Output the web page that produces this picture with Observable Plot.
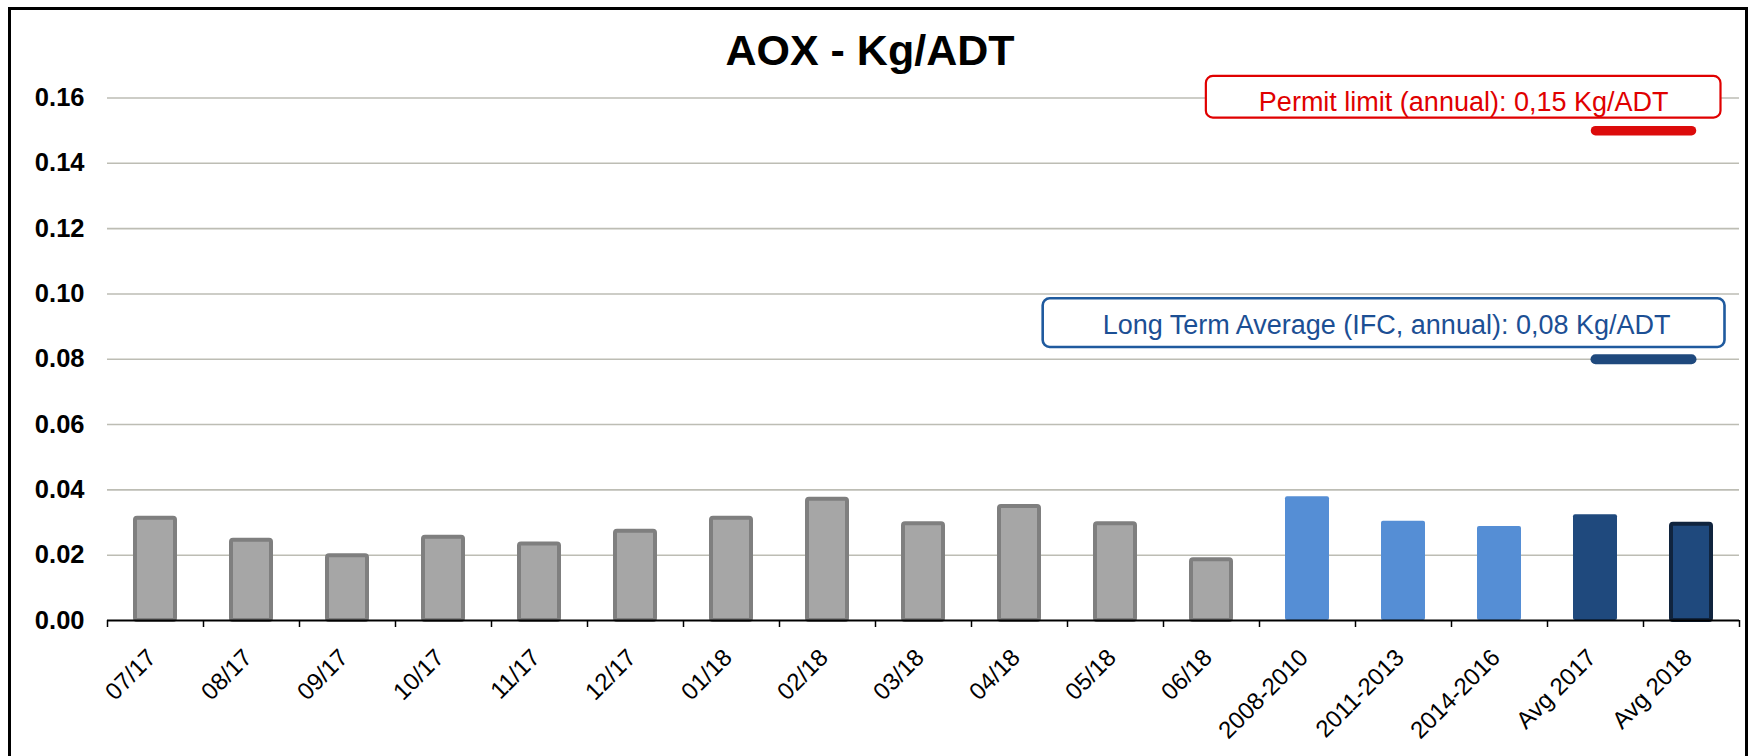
<!DOCTYPE html>
<html>
<head>
<meta charset="utf-8">
<script src="https://cdn.jsdelivr.net/npm/d3@7"></script>
<script src="https://cdn.jsdelivr.net/npm/@observablehq/plot@0.6"></script>
<style>
  html, body { margin: 0; padding: 0; background: #fff; width: 1754px; height: 756px; overflow: hidden; }
  #wrap { position: relative; width: 1754px; height: 756px; font-family: "Liberation Sans", Arial, sans-serif; }
  #frame { position: absolute; left: 8px; top: 7px; width: 1740px; height: 900px; border: 3.5px solid #000; box-sizing: border-box; }
  #title { position: absolute; left: 0; top: 28.6px; width: 1740px; text-align: center; font-weight: bold; font-size: 43px; line-height: 43px; color: #000; z-index: 2; }
  #chart { position: absolute; left: 0; top: 0; z-index: 1; }
</style>
</head>
<body>
<div id="wrap">
  <div id="frame"></div>
  <div id="chart"></div>
  <div id="title">AOX - Kg/ADT</div>
</div>
<script>
// ---- data ----
const months = ["07/17", "08/17", "09/17", "10/17", "11/17", "12/17", "01/18", "02/18", "03/18", "04/18", "05/18", "06/18"];
const monthValues = [0.0313, 0.0246, 0.0198, 0.0255, 0.0234, 0.0273, 0.0313, 0.0371, 0.0296, 0.0349, 0.0296, 0.0186];
const periods = ["2008-2010", "2011-2013", "2014-2016"];
const periodValues = [0.0379, 0.0304, 0.0288];
const averages = ["Avg 2017", "Avg 2018"];
const averageValues = [0.0324, 0.0295];
const yTicks = [0, 0.02, 0.04, 0.06, 0.08, 0.10, 0.12, 0.14, 0.16];
const permitLimit = 0.15;
const permitLabel = "Permit limit (annual): 0,15 Kg/ADT";
const longTermAverage = 0.08;
const longTermLabel = "Long Term Average (IFC, annual): 0,08 Kg/ADT";

// ---- tables ----
const categories = [...months, ...periods, ...averages];
const monthRows = months.map((c, i) => ({cat: c, value: monthValues[i]}));
const periodRows = periods.map((c, i) => ({cat: c, value: periodValues[i]}));
const avg2017Rows = [{cat: averages[0], value: averageValues[0]}];
const avg2018Rows = [{cat: averages[1], value: averageValues[1]}];
const permitRows = averages.map(c => ({cat: c, value: permitLimit}));
const ltaRows = averages.map(c => ({cat: c, value: longTermAverage}));

const W = 1754, H = 756;
const mL = 107, mR = 15, mT = 97.5, mB = 136;
const step = (W - mL - mR) / categories.length;
const pxPerUnit = (H - mT - mB) / 0.16;
const tickLen = 7 / pxPerUnit;
const FS = 27;

const plot = Plot.plot({
  width: W, height: H,
  marginLeft: mL, marginRight: mR, marginTop: mT, marginBottom: mB,
  style: {fontFamily: '"Liberation Sans", Arial, sans-serif', background: "transparent", color: "#000"},
  x: {type: "band", domain: categories, paddingInner: 0.541, paddingOuter: 0.2705, axis: null},
  y: {domain: [0, 0.16], axis: null},
  marks: [
    Plot.gridY(yTicks.filter(d => d > 0), {stroke: "#bdbdb4", strokeOpacity: 1, strokeWidth: 1.6}),
    Plot.axisY(yTicks, {tickSize: 0, tickPadding: 23, label: null, tickFormat: d3.format(".2f"), fontSize: 25.5, fontWeight: "bold", fill: "#000"}),
    Plot.barY(monthRows, {x: "cat", y: "value", fill: "#a6a6a6", stroke: "#7f7f7f", strokeWidth: 4, insetLeft: 2, insetRight: 2, rx: 2}),
    Plot.barY(periodRows, {x: "cat", y: "value", fill: "#558ed5", rx: 2}),
    Plot.barY(avg2017Rows, {x: "cat", y: "value", fill: "#1f497d", rx: 2}),
    Plot.barY(avg2018Rows, {x: "cat", y: "value", fill: "#1f497d", stroke: "#10243e", strokeWidth: 4, insetLeft: 2, insetRight: 2, rx: 2}),
    Plot.ruleY([0], {stroke: "#000", strokeWidth: 2}),
    Plot.ruleX(categories, {x: d => d, dx: -step / 2, y1: 0, y2: -tickLen, stroke: "#000", strokeWidth: 1.5}),
    Plot.ruleX([categories[categories.length - 1]], {x: d => d, dx: step / 2, y1: 0, y2: -tickLen, stroke: "#000", strokeWidth: 1.5}),
    Plot.axisX({tickSize: 0, tickPadding: 33, label: null, tickRotate: -45, fontSize: 24, fill: "#000", dx: -3.5}),
    Plot.line(permitRows, {x: "cat", y: "value", stroke: "#dc0b0b", strokeWidth: 9.5, strokeLinecap: "round"}),
    Plot.line(ltaRows, {x: "cat", y: "value", stroke: "#1f497d", strokeWidth: 10, strokeLinecap: "round"}),
    Plot.text([permitLabel], {x: () => averages[1], y: () => 0.16, text: d => d, textAnchor: "end", lineAnchor: "bottom", dx: -23, dy: 13.2, fontSize: FS, fill: "#e00000"}),
    Plot.text([longTermLabel], {x: () => averages[1], y: () => longTermAverage, text: d => d, textAnchor: "end", lineAnchor: "bottom", dx: -21, dy: -25.4, fontSize: FS, fill: "#1c4f94"})
  ]
});

document.getElementById("chart").appendChild(plot);

// rounded boxes behind the two annotation labels (padding measured from the text baseline)
const boxes = [
  {label: permitLabel, stroke: "#e00000", padL: 53, padR: 52, above: 35.7, below: 6, sw: 2.2},
  {label: longTermLabel, stroke: "#1f5a9e", padL: 60, padR: 54, above: 36, below: 12.7, sw: 2.6}
];
plot.querySelectorAll("text").forEach(t => {
  const b = boxes.find(o => o.label === t.textContent);
  if (!b) return;
  const bb = t.getBBox();
  const baseline = bb.y + 0.905 * FS;
  const r = document.createElementNS("http://www.w3.org/2000/svg", "rect");
  r.setAttribute("x", bb.x - b.padL);
  r.setAttribute("y", baseline - b.above);
  r.setAttribute("width", bb.width + b.padL + b.padR);
  r.setAttribute("height", b.above + b.below);
  r.setAttribute("rx", 7);
  r.setAttribute("fill", "#fff");
  r.setAttribute("stroke", b.stroke);
  r.setAttribute("stroke-width", b.sw);
  const tr = t.getAttribute("transform");
  if (tr) r.setAttribute("transform", tr);
  t.parentNode.insertBefore(r, t);
});
</script>
</body>
</html>
